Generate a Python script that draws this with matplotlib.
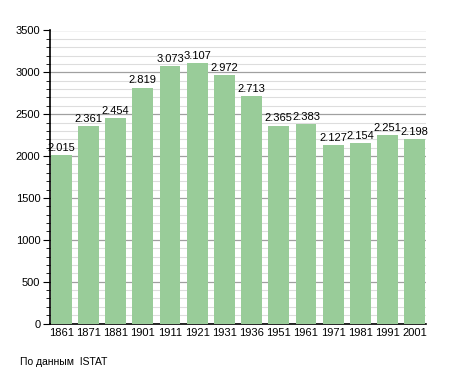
import numpy as np
import matplotlib
matplotlib.use('Agg')
import matplotlib.pyplot as plt
from matplotlib.ticker import MultipleLocator

years = ['1861', '1871', '1881', '1901', '1911', '1921', '1931',
         '1936', '1951', '1961', '1971', '1981', '1991', '2001']
population = [2015, 2361, 2454, 2819, 3073, 3107, 2972,
              2713, 2365, 2383, 2127, 2154, 2251, 2198]
source_note = 'По данным  ISTAT'

plt.rcParams['font.family'] = ['Liberation Sans', 'DejaVu Sans']

fig = plt.figure(figsize=(4.55, 3.73), dpi=100)
ax = fig.add_axes([50/455., 1-323.5/373., 376/455., 293/373.])

x = np.arange(len(years))
ax.bar(x, population, width=0.77, color='#99cc99', zorder=3)

for xi, v in zip(x, population):
    lbl = '%d.%03d' % (v // 1000, v % 1000)
    ax.text(xi, v + 25, lbl, ha='center', va='bottom', fontsize=8, zorder=4)

ax.set_xlim(-0.41, len(years) - 0.59)
ax.set_ylim(0, 3500)
ax.yaxis.set_major_locator(MultipleLocator(500))
ax.yaxis.set_minor_locator(MultipleLocator(100))
ax.grid(axis='y', which='major', color='#a0a0a0', linewidth=0.9, zorder=1)
ax.grid(axis='y', which='minor', color='#dddddd', linewidth=0.8, zorder=1)
ax.set_axisbelow(True)

ax.set_xticks(x)
ax.set_xticklabels(years)
ax.tick_params(axis='x', length=0, labelsize=8, pad=3)
ax.tick_params(axis='y', which='major', length=5, labelsize=8, pad=2)
ax.tick_params(axis='y', which='minor', length=3)

ax.spines['top'].set_visible(False)
ax.spines['right'].set_visible(False)
ax.spines['left'].set_linewidth(1.2)
ax.spines['bottom'].set_linewidth(1.2)

fig.text(20/455., 1-362/373., source_note, fontsize=7.5, va='center', ha='left')

plt.savefig('out.png', dpi=100)
